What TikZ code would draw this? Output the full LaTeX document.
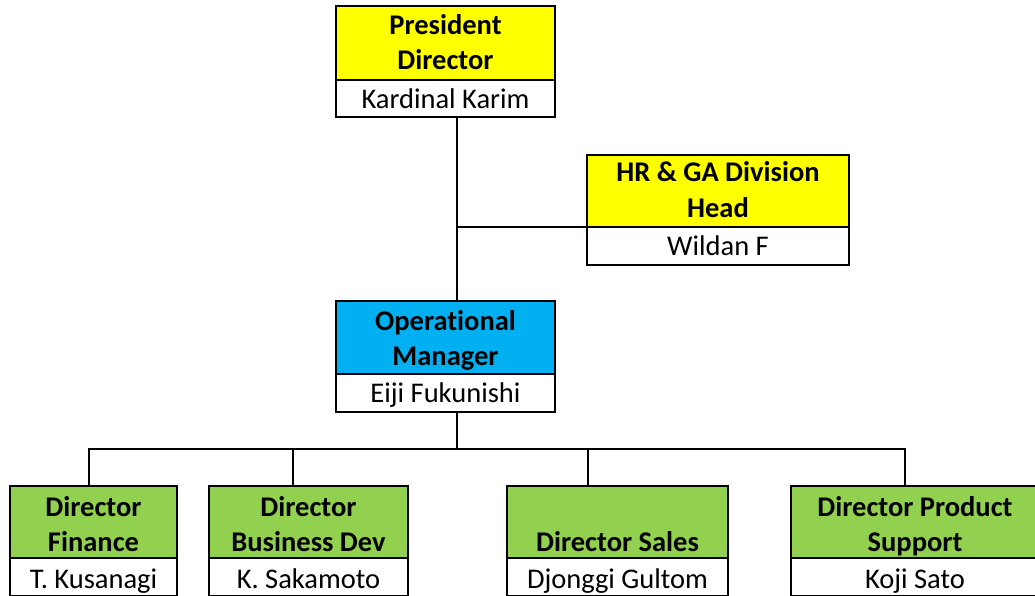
\documentclass[tikz,border=0pt]{standalone}
\usepackage{fontspec}
\setmainfont[Ligatures={NoCommon,NoContextual}]{Carlito}
\definecolor{cyel}{HTML}{FFFF00}
\definecolor{cblue}{HTML}{00B0F0}
\definecolor{cgreen}{HTML}{92D050}
\begin{document}
\begin{tikzpicture}[x=1pt,y=-1pt,
  cell/.style={draw=black, line width=2pt, inner sep=0pt, outer sep=0pt, anchor=north west, fill=white},
  ttl/.style={font=\fontsize{28.5}{35}\selectfont\bfseries, anchor=base, inner sep=0pt},
  nm/.style={font=\fontsize{28.5}{35}\selectfont, anchor=base, inner sep=0pt},
  conn/.style={draw=black, line width=2pt}]
\useasboundingbox (0,0) rectangle (1035,596);
\clip (0,0) rectangle (1035,596);
\fill[white] (0,0) rectangle (1035,596);

% coordinates for connector lines
\coordinate (trunk) at (457,0);
\coordinate (bus) at (0,449);
\coordinate (d1) at (89,0);
\coordinate (d2) at (293,0);
\coordinate (d3) at (588,0);
\coordinate (d4) at (905,0);

% connectors
\draw[conn] (trunk |- 0,117) coordinate (tk1) -- (trunk |- 0,301) coordinate (tk2);
\draw[conn] (587,227) coordinate (hrj) -- (trunk |- hrj);
\draw[conn] (trunk |- 0,412) coordinate (tk3) -- (trunk |- bus);
\draw[conn] (d1 |- 0,486) -- (d1 |- bus) -- (d4 |- bus) -- (d4 |- 0,486);
\draw[conn] (d2 |- 0,486) -- (d2 |- bus);
\draw[conn] (d3 |- 0,486) -- (d3 |- bus);

% President Director
\node[cell, fill=cyel, minimum width=219, minimum height=74] (pres) at (336,6) {};
\node[cell, minimum width=219, minimum height=37] (presn) at (336,80) {};
\node[ttl] (pres-t1) at (445.5,35) {President};
\node[ttl] (pres-t2) at (445.5,70) {Director};
\node[nm] (presn-t) at (445.5,109) {Kardinal Karim};

% HR & GA Division Head
\node[cell, fill=cyel, minimum width=262, minimum height=72] (hr) at (587,155) {};
\node[cell, minimum width=262, minimum height=38] (hrn) at (587,227) {};
\node[ttl] (hr-t1) at (718,182) {HR \& GA Division};
\node[ttl] (hr-t2) at (718,217) {Head};
\node[nm] (hrn-t) at (718,255) {Wildan F};

% Operational Manager
\node[cell, fill=cblue, minimum width=219, minimum height=73] (op) at (336,301) {};
\node[cell, minimum width=219, minimum height=38] (opn) at (336,374) {};
\node[ttl] (op-t1) at (445.5,330) {Operat\kern0pt ional};
\node[ttl] (op-t2) at (445.5,365) {Manager};
\node[nm] (opn-t) at (445.5,402) {Eiji Fukunishi};

% Director Finance
\node[cell, fill=cgreen, minimum width=167, minimum height=72] (fin) at (10,486) {};
\node[cell, minimum width=167, minimum height=38] (finn) at (10,558) {};
\node[ttl] (fin-t1) at (93.5,516) {Director};
\node[ttl] (fin-t2) at (93.5,551.5) {Finance};
\node[nm] (finn-t) at (93.5,588) {T. Kusanagi};

% Director Business Dev
\node[cell, fill=cgreen, minimum width=199, minimum height=72] (biz) at (209,486) {};
\node[cell, minimum width=199, minimum height=38] (bizn) at (209,558) {};
\node[ttl] (biz-t1) at (308.5,516) {Director};
\node[ttl] (biz-t2) at (308.5,551.5) {Business Dev};
\node[nm] (bizn-t) at (308.5,588) {K. Sakamoto};

% Director Sales
\node[cell, fill=cgreen, minimum width=221, minimum height=72] (sal) at (507,486) {};
\node[cell, minimum width=221, minimum height=38] (saln) at (507,558) {};
\node[ttl] (sal-t1) at (617.5,551.5) {Director Sales};
\node[nm] (saln-t) at (617.5,588) {Djonggi Gultom};

% Director Product Support
\node[cell, fill=cgreen, minimum width=248, minimum height=72] (prd) at (791,486) {};
\node[cell, minimum width=248, minimum height=38] (prdn) at (791,558) {};
\node[ttl] (prd-t1) at (915,516) {Director Product};
\node[ttl] (prd-t2) at (915,551.5) {Support};
\node[nm] (prdn-t) at (915,588) {Koji Sato};
\end{tikzpicture}
\end{document}
